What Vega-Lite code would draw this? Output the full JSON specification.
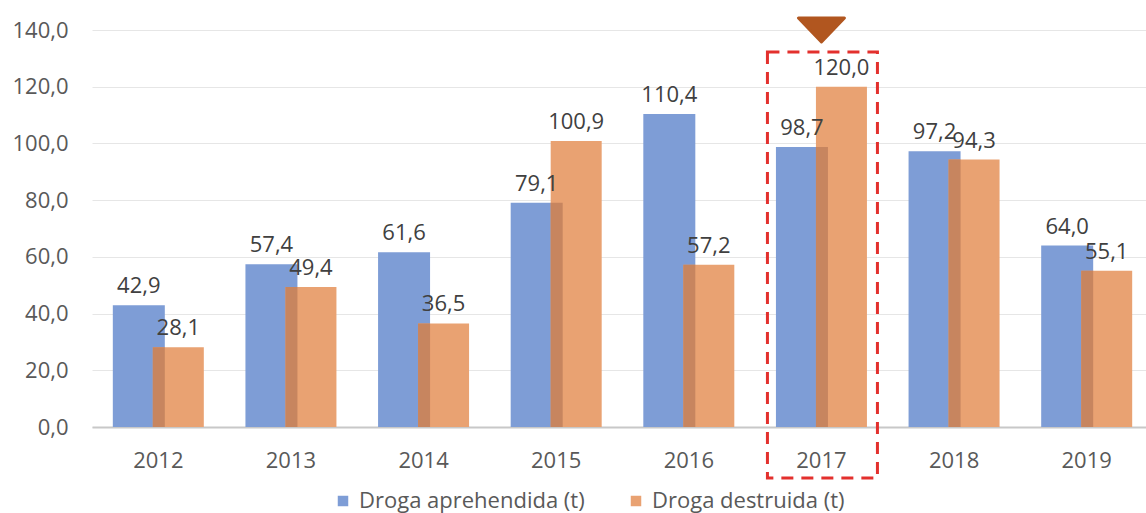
{
  "$schema": "https://vega.github.io/schema/vega-lite/v6.json",
  "width": 1054,
  "height": 397,
  "autosize": {"type": "none"},
  "padding": {"left": 92, "top": 30, "right": 0, "bottom": 86},
  "background": "white",
  "config": {
    "font": "Open Sans",
    "view": {"stroke": null},
    "locale": {"number": {"decimal": ",", "thousands": ".", "grouping": [3], "currency": ["", " €"]}}
  },
  "datasets": {
    "valores": [
      {"anio": "2012", "serie": "Droga aprehendida (t)", "valor": 42.9},
      {"anio": "2012", "serie": "Droga destruida (t)", "valor": 28.1},
      {"anio": "2013", "serie": "Droga aprehendida (t)", "valor": 57.4},
      {"anio": "2013", "serie": "Droga destruida (t)", "valor": 49.4},
      {"anio": "2014", "serie": "Droga aprehendida (t)", "valor": 61.6},
      {"anio": "2014", "serie": "Droga destruida (t)", "valor": 36.5},
      {"anio": "2015", "serie": "Droga aprehendida (t)", "valor": 79.1},
      {"anio": "2015", "serie": "Droga destruida (t)", "valor": 100.9},
      {"anio": "2016", "serie": "Droga aprehendida (t)", "valor": 110.4},
      {"anio": "2016", "serie": "Droga destruida (t)", "valor": 57.2},
      {"anio": "2017", "serie": "Droga aprehendida (t)", "valor": 98.7},
      {"anio": "2017", "serie": "Droga destruida (t)", "valor": 120.0},
      {"anio": "2018", "serie": "Droga aprehendida (t)", "valor": 97.2},
      {"anio": "2018", "serie": "Droga destruida (t)", "valor": 94.3},
      {"anio": "2019", "serie": "Droga aprehendida (t)", "valor": 64.0},
      {"anio": "2019", "serie": "Droga destruida (t)", "valor": 55.1}
    ],
    "resaltado": [
      {"anio": "2017", "arriba": 132.2, "abajo": -18.0, "marcador": 140}
    ]
  },
  "data": {"name": "valores"},
  "encoding": {
    "x": {
      "field": "anio",
      "type": "nominal",
      "sort": null,
      "scale": {"paddingInner": 0, "paddingOuter": 0, "range": [0, 1061]},
      "axis": {
        "title": null,
        "labelAngle": 0,
        "labelFont": "Open Sans",
        "labelFontSize": 22,
        "labelColor": "#595959",
        "labelPadding": 23,
        "ticks": false,
        "tickSize": 0,
        "domain": true,
        "domainColor": "#C8C8C8",
        "domainWidth": 2,
        "grid": false
      }
    }
  },
  "layer": [
    {
      "transform": [{"filter": "datum.serie === 'Droga aprehendida (t)'"}],
      "mark": {"type": "bar", "width": 52, "xOffset": -19.5},
      "encoding": {
        "y": {
          "field": "valor",
          "type": "quantitative",
          "scale": {"domain": [0, 140], "nice": false},
          "axis": {
            "title": null,
            "values": [0, 20, 40, 60, 80, 100, 120, 140],
            "format": ".1f",
            "labelFont": "Open Sans",
            "labelFontSize": 22,
            "labelColor": "#595959",
            "labelPadding": 24,
            "ticks": false,
            "tickSize": 0,
            "domain": false,
            "grid": true,
            "gridColor": "#E6E6E6",
            "gridWidth": 1
          }
        },
        "color": {
          "field": "serie",
          "type": "nominal",
          "scale": {
            "domain": ["Droga aprehendida (t)", "Droga destruida (t)"],
            "range": ["#7E9DD6", "#E9A272"]
          },
          "legend": {
            "title": null,
            "orient": "none",
            "direction": "horizontal",
            "legendX": 240,
            "legendY": 460,
            "symbolType": "square",
            "symbolSize": 110,
            "symbolStrokeWidth": 0,
            "labelFont": "Open Sans",
            "labelFontSize": 22,
            "labelColor": "#595959",
            "labelOffset": 5,
            "labelLimit": 400,
            "columnPadding": 40
          }
        }
      }
    },
    {
      "transform": [{"filter": "datum.serie === 'Droga destruida (t)'"}],
      "mark": {"type": "bar", "width": 51, "xOffset": 20},
      "encoding": {
        "y": {"field": "valor", "type": "quantitative"},
        "color": {"field": "serie", "type": "nominal"}
      }
    },
    {
      "transform": [{"aggregate": [{"op": "min", "field": "valor", "as": "minimo"}], "groupby": ["anio"]}],
      "mark": {"type": "bar", "width": 12, "xOffset": 0.5, "color": "#C7855F"},
      "encoding": {
        "y": {"field": "minimo", "type": "quantitative"}
      }
    },
    {
      "transform": [{"filter": "datum.serie === 'Droga aprehendida (t)'"}],
      "mark": {"type": "text", "xOffset": -19.5, "dy": -12, "baseline": "alphabetic", "font": "Open Sans", "fontSize": 22, "color": "#404040"},
      "encoding": {
        "y": {"field": "valor", "type": "quantitative"},
        "text": {"field": "valor", "type": "quantitative", "format": ".1f"}
      }
    },
    {
      "transform": [{"filter": "datum.serie === 'Droga destruida (t)'"}],
      "mark": {"type": "text", "xOffset": 20, "dy": -12, "baseline": "alphabetic", "font": "Open Sans", "fontSize": 22, "color": "#404040"},
      "encoding": {
        "y": {"field": "valor", "type": "quantitative"},
        "text": {"field": "valor", "type": "quantitative", "format": ".1f"}
      }
    },
    {
      "data": {"name": "resaltado"},
      "mark": {"type": "bar", "width": 110, "xOffset": 1, "fill": null, "fillOpacity": 0, "stroke": "#E3302D", "strokeWidth": 3, "strokeDash": [12, 8]},
      "encoding": {
        "y": {"field": "arriba", "type": "quantitative"},
        "y2": {"field": "abajo"}
      }
    },
    {
      "data": {"name": "resaltado"},
      "mark": {"type": "point", "shape": "M-1,-0.52L1,-0.52L0,0.52Z", "size": 2116, "filled": true, "opacity": 1, "color": "#B1561F", "stroke": "#B1561F", "strokeWidth": 3, "strokeJoin": "round"},
      "encoding": {
        "y": {"field": "marcador", "type": "quantitative"}
      }
    }
  ]
}
